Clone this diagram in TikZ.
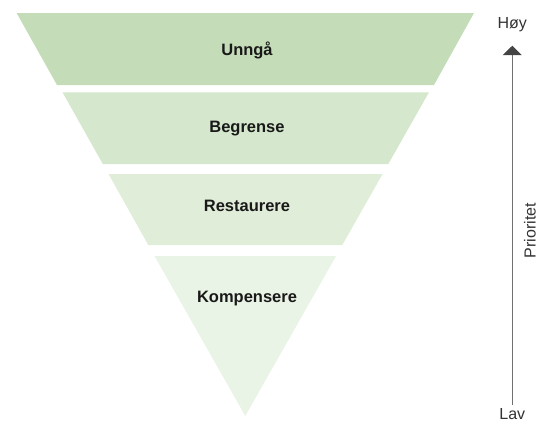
\documentclass[tikz,border=0pt]{standalone}
\usepackage{fontspec}
\setmainfont{Liberation Sans}
\usetikzlibrary{arrows.meta}
\definecolor{lvA}{HTML}{C4DDB8}
\definecolor{lvB}{HTML}{D5E8CD}
\definecolor{lvC}{HTML}{E0EDD9}
\definecolor{lvD}{HTML}{EAF4E6}
\definecolor{axisgray}{HTML}{707070}
\definecolor{tipgray}{HTML}{444444}
\definecolor{txtgray}{HTML}{333333}
\tikzset{
  layerlabel/.style={font=\fontsize{16.5}{18}\selectfont\bfseries, text=black!90, anchor=base, inner sep=0pt},
  axislabel/.style={font=\fontsize{16}{18}\selectfont, text=txtgray, inner sep=0pt},
  axisline/.style={draw=axisgray, line width=1.1pt, -{Triangle[width=19pt,length=9.5pt,color=tipgray]}},
}
\begin{document}
\begin{tikzpicture}[x=1pt,y=-1pt]
\useasboundingbox (0,0) rectangle (538,421);
% layers
\fill[lvA] (16.6,13) -- (474.0,13) -- (434.0,85) -- (57.0,85) -- cycle;
\fill[lvB] (62.5,92.3) -- (429.0,92.3) -- (388.3,164) -- (102.8,164) -- cycle;
\fill[lvC] (108.5,174) -- (382.6,174) -- (342.3,245) -- (148.3,245) -- cycle;
\fill[lvD] (154.5,256) -- (336.1,256) -- (245.3,416) -- cycle;
% labels
\node[layerlabel] (l1) at (247,55) {Unngå};
\node[layerlabel] (l2) at (247,132.7) {Begrense};
\node[layerlabel] (l3) at (247,211.7) {Restaurere};
\node[layerlabel] (l4) at (247,302.3) {Kompensere};
% axis
\node[axislabel, anchor=base] (hi) at (512.3,28) {Høy};
\node[axislabel, anchor=base] (lo) at (512.3,419) {Lav};
\coordinate (abot) at (512.3,405);
\coordinate (atop) at (512.3,45.7);
\draw[axisline] (abot) -- (atop);
\node[axislabel, rotate=90, anchor=center] (prio) at (530,230.5) {Prioritet};
\end{tikzpicture}
\end{document}
